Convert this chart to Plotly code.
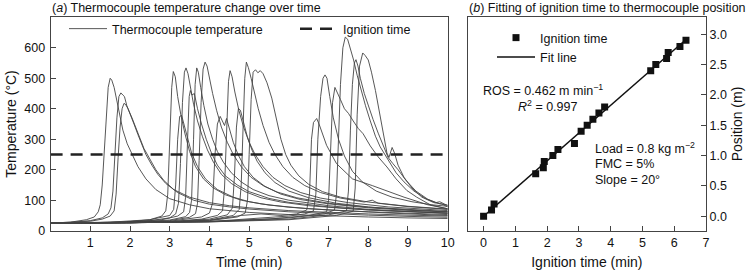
import numpy as np
import plotly.graph_objects as go

W, H = 753, 271
FONT = "Liberation Sans, Arial, sans-serif"

# ---------------- data: panel (a) thermocouple temperature curves (time min, temp degC)
tc01 = [(0,25),(0.5,28),(0.9,36),(1.1,45),(1.2,62),(1.25,85),(1.3,150),(1.35,260),(1.4,380),(1.45,470),(1.5,500),
        (1.54,494),(1.6,470),(1.66,430),(1.73,385),(1.82,330),(1.93,285),(2.06,250),(2.2,210),(2.4,170),(2.65,135),
        (3.0,105),(3.5,85),(4.0,72),(5.0,60),(6.0,53),(7.0,48),(8.0,45),(9.0,42),(10.0,40)]
tc02 = [(0,25),(0.5,27),(1.0,33),(1.3,42),(1.45,55),(1.52,75),(1.57,130),(1.62,250),(1.67,370),(1.72,440),(1.77,452),
        (1.82,445),(1.86,440),(1.92,410),(2.0,380),(2.1,350),(2.2,315),(2.3,280),(2.4,250),(2.55,215),(2.7,185),
        (2.9,155),(3.2,125),(3.6,100),(4.0,87),(4.5,78),(5.0,71),(6.0,62),(7.0,56),(8.0,51),(9.0,47),(10.0,44)]
tc03 = [(0,25),(0.5,27),(1.0,31),(1.3,38),(1.5,48),(1.6,65),(1.65,120),(1.7,240),(1.75,340),(1.8,400),(1.85,418),
        (1.9,412),(1.95,400),(2.05,370),(2.15,335),(2.25,300),(2.35,270),(2.5,235),(2.65,200),(2.85,165),(3.1,135),
        (3.5,110),(4.0,92),(4.5,82),(5.0,75),(6.0,66),(7.0,60),(8.0,55),(9.0,51),(10.0,48)]
tc04 = [(0,25),(1.0,26),(2.0,30),(2.5,36),(2.8,48),(2.9,65),(2.95,120),(3.0,300),(3.05,470),(3.09,522),(3.14,505),
        (3.2,440),(3.28,380),(3.38,320),(3.5,260),(3.65,210),(3.85,170),(4.1,140),(4.4,118),(4.8,100),(5.3,88),
        (6.0,77),(7.0,68),(8.0,62),(9.0,57),(10.0,53)]
tc05 = [(0,25),(1.5,28),(2.5,36),(3.0,50),(3.1,70),(3.15,150),(3.2,300),(3.25,375),(3.3,378),(3.36,350),(3.45,300),
        (3.55,255),(3.7,210),(3.9,170),(4.2,135),(4.6,110),(5.0,95),(5.5,84),(6.5,72),(7.5,64),(8.5,58),(10.0,50)]
tc06 = [(0,25),(1.5,27),(2.5,33),(3.0,42),(3.15,55),(3.22,90),(3.27,220),(3.32,420),(3.37,520),(3.41,534),(3.46,515),
        (3.52,470),(3.6,415),(3.7,360),(3.82,310),(3.95,265),(4.1,225),(4.3,185),(4.55,155),(4.9,128),(5.3,108),
        (5.8,94),(6.5,82),(7.5,72),(8.5,65),(10.0,58)]
tc07 = [(0,25),(2.0,28),(2.8,36),(3.2,48),(3.35,62),(3.4,110),(3.45,300),(3.49,440),(3.52,460),(3.56,445),(3.62,450),
        (3.7,400),(3.8,350),(3.92,300),(4.05,255),(4.2,215),(4.4,180),(4.7,150),(5.0,128),(5.5,106),(6.0,93),
        (7.0,78),(8.0,68),(9.0,62),(10.0,57)]
tc08 = [(0,25),(2.0,27),(3.0,35),(3.4,46),(3.5,60),(3.55,100),(3.6,300),(3.64,480),(3.68,534),(3.72,520),(3.78,470),
        (3.86,410),(3.96,350),(4.08,300),(4.2,260),(4.35,225),(4.55,190),(4.8,160),(5.1,135),(5.5,115),(6.0,100),
        (7.0,82),(8.0,70),(9.0,63),(10.0,57)]
tc09 = [(0,25),(2.0,27),(3.0,33),(3.5,44),(3.65,56),(3.7,90),(3.74,230),(3.79,420),(3.84,530),(3.89,553),(3.94,540),
        (4.0,500),(4.08,450),(4.18,395),(4.3,340),(4.45,290),(4.6,250),(4.8,210),(5.05,175),(5.35,148),(5.7,127),
        (6.2,108),(7.0,90),(8.0,77),(9.0,69),(10.0,63)]
tc10 = [(0,25),(2.0,27),(3.0,31),(3.8,45),(4.0,58),(4.08,90),(4.14,250),(4.2,350),(4.27,375),(4.33,360),(4.38,345),
        (4.43,368),(4.5,335),(4.6,290),(4.72,250),(4.88,210),(5.1,175),(5.4,145),(5.8,120),(6.3,102),(7.0,88),
        (8.0,75),(9.0,67),(10.0,62)]
tc11 = [(0,25),(2.0,26),(3.0,30),(3.8,38),(4.2,50),(4.33,65),(4.38,140),(4.43,330),(4.48,490),(4.52,525),(4.57,505),
        (4.64,455),(4.74,395),(4.86,340),(5.0,290),(5.15,250),(5.35,210),(5.6,175),(5.9,148),(6.3,125),(6.8,107),
        (7.5,92),(8.5,78),(10.0,66)]
tc12 = [(0,25),(2.0,26),(3.0,29),(4.0,38),(4.45,52),(4.58,75),(4.63,180),(4.68,340),(4.73,401),(4.78,395),(4.85,360),
        (4.95,310),(5.07,265),(5.2,228),(5.4,190),(5.65,158),(6.0,130),(6.5,108),(7.2,90),(8.0,78),(9.0,68),(10.0,61)]
tc13 = [(0,25),(2.0,26),(3.0,28),(4.0,35),(4.6,50),(4.75,70),(4.8,150),(4.85,350),(4.89,500),(4.93,553),(4.98,535),
        (5.05,500),(5.13,455),(5.23,400),(5.35,345),(5.5,290),(5.65,250),(5.85,210),(6.1,175),(6.4,148),(6.8,125),
        (7.3,107),(7.9,94),(8.1,100),(8.25,90),(9.0,79),(10.0,70)]
tc14 = [(0,25),(2.0,26),(3.0,28),(4.0,33),(4.7,45),(4.9,58),(4.96,100),(5.0,250),(5.05,430),(5.1,520),(5.16,528),
        (5.22,518),(5.28,525),(5.35,515),(5.45,485),(5.57,435),(5.68,370),(5.8,300),(5.92,250),(6.05,215),(6.25,180),
        (6.5,152),(6.85,128),(7.3,110),(8.0,94),(9.0,80),(10.0,71)]
tc15 = [(0,25),(2.0,26),(4.0,34),(4.8,50),(5.3,55),(5.8,50),(6.2,55),(6.45,68),(6.52,120),(6.57,300),(6.62,355),
        (6.7,368),(6.76,350),(6.84,320),(6.95,280),(7.2,220),(7.6,170),(8.1,148),(8.9,110),(9.5,85),(10.0,72)]
tc16 = [(0,25),(2.0,26),(4.0,30),(5.0,40),(6.0,48),(6.4,55),(6.62,65),(6.68,120),(6.73,300),(6.8,440),(6.86,500),
        (6.91,511),(6.96,500),(7.03,440),(7.12,370),(7.25,300),(7.4,245),(7.6,195),(7.85,160),(8.2,130),(8.6,110),
        (9.1,95),(9.6,85),(10.0,80)]
tc17 = [(0,25),(2.0,26),(4.0,30),(5.5,38),(6.5,50),(6.95,62),(7.0,100),(7.05,280),(7.1,420),(7.16,470),(7.22,455),
        (7.3,430),(7.4,400),(7.5,385),(7.62,360),(7.75,335),(7.87,318),(8.05,278),(8.25,242),(8.47,209),(8.7,170),
        (8.97,132),(9.22,110),(9.56,85),(10.0,72)]
tc18 = [(0,25),(2.0,26),(4.0,30),(6.0,42),(6.9,55),(7.15,68),(7.2,120),(7.25,300),(7.3,480),(7.36,600),(7.42,635),
        (7.48,628),(7.55,600),(7.63,560),(7.72,510),(7.82,460),(7.93,410),(8.05,360),(8.18,310),(8.3,275),(8.42,250),
        (8.55,220),(8.7,190),(8.9,160),(9.15,130),(9.45,105),(9.7,92),(9.8,95),(10.0,82)]
tc19 = [(0,25),(2.0,26),(4.0,29),(6.0,38),(7.0,52),(7.45,65),(7.5,130),(7.55,330),(7.6,480),(7.65,550),(7.69,561),
        (7.74,540),(7.8,500),(7.9,450),(8.0,410),(8.12,365),(8.25,320),(8.38,275),(8.5,240),(8.62,220),(8.75,200),
        (8.95,165),(9.2,130),(9.5,103),(9.8,88),(10.0,84)]
tc20 = [(0,25),(2.0,26),(4.0,29),(6.0,36),(7.2,50),(7.62,64),(7.67,140),(7.72,380),(7.78,540),(7.86,583),(7.92,575),
        (8.0,560),(8.08,520),(8.18,460),(8.28,390),(8.38,320),(8.47,255),(8.52,240),(8.6,273),(8.66,255),(8.75,215),
        (8.9,175),(9.1,140),(9.35,110),(9.65,92),(9.85,88),(10.0,78)]
thermocouples = [tc01, tc02, tc03, tc04, tc05, tc06, tc07, tc08, tc09, tc10,
                 tc11, tc12, tc13, tc14, tc15, tc16, tc17, tc18, tc19, tc20]

ignition_threshold = 250
time_span = [0, 10]

# ---------------- data: panel (b)
ignition_time = [0.0, 0.25, 0.33, 1.64, 1.88, 1.91, 2.18, 2.34, 2.86, 3.07,
                 3.26, 3.44, 3.63, 3.81, 5.26, 5.42, 5.76, 5.81, 6.18, 6.37]
position = [0.0, 0.1, 0.2, 0.7, 0.8, 0.9, 1.0, 1.1, 1.2, 1.4,
            1.5, 1.6, 1.7, 1.8, 2.4, 2.5, 2.6, 2.7, 2.8, 2.9]

temp_ticks = [0, 100, 200, 300, 400, 500, 600]
time_ticks = [1, 2, 3, 4, 5, 6, 7, 8, 9, 10]
ign_ticks = [0, 1, 2, 3, 4, 5, 6, 7]
pos_ticks = [0.0, 0.5, 1.0, 1.5, 2.0, 2.5, 3.0]


def fx(px):
    return px / W


def fy(py):
    return 1 - py / H


fig = go.Figure()

for i, pts in enumerate(thermocouples):
    t = [p[0] for p in pts]
    T = [p[1] for p in pts]
    fig.add_trace(go.Scatter(
        x=t, y=T, mode="lines", line=dict(color="#444444", width=0.9),
        name="Thermocouple temperature", legendgroup="tc", showlegend=(i == 0),
        xaxis="x", yaxis="y", legend="legend", hoverinfo="skip"))

fig.add_trace(go.Scatter(
    x=time_span, y=[ignition_threshold, ignition_threshold], mode="lines",
    line=dict(color="#222222", width=2.5, dash="12px,8px"),
    name="Ignition time", xaxis="x", yaxis="y", legend="legend"))

fig.add_trace(go.Scatter(
    x=ignition_time, y=position, mode="markers",
    marker=dict(symbol="square", size=7, color="#111111"),
    name="Ignition time", xaxis="x2", yaxis="y2", legend="legend2"))

slope, intercept = np.polyfit(ignition_time, position, 1)
fit_x = [min(ignition_time), max(ignition_time)]
fit_y = [slope * v + intercept for v in fit_x]
fig.add_trace(go.Scatter(
    x=fit_x, y=fit_y, mode="lines", line=dict(color="#111111", width=1.5),
    name="Fit line", xaxis="x2", yaxis="y2", legend="legend2"))

ydom = [fy(230.7), fy(17.3)]
TITLE_FONT = dict(family=FONT, size=14, color="#111111")
axis_common = dict(showline=True, linecolor="#444444", linewidth=1, mirror=True,
                   ticks="inside", ticklen=5, tickwidth=1, tickcolor="#444444",
                   showgrid=False, zeroline=False, automargin=False,
                   tickfont=dict(family=FONT, size=12.5, color="#111111"))

fig.update_layout(
    width=W, height=H, margin=dict(l=0, r=0, t=0, b=0),
    paper_bgcolor="white", plot_bgcolor="white",
    font=dict(family=FONT, size=12.5, color="#111111"),
    xaxis=dict(domain=[fx(50.6), fx(447.7)], range=[0, 10], tickvals=time_ticks,
               title=dict(text="Time (min)", font=TITLE_FONT, standoff=8),
               anchor="y", **axis_common),
    yaxis=dict(domain=ydom, range=[0, 700], tickvals=temp_ticks, ticklabelstandoff=2,
               title=dict(text="Temperature (°C)", font=TITLE_FONT, standoff=4),
               anchor="x", **axis_common),
    xaxis2=dict(domain=[fx(467.7), fx(706)], range=[-0.5, 7.0], tickvals=ign_ticks,
                title=dict(text="Ignition time (min)", font=TITLE_FONT, standoff=8),
                anchor="y2", **axis_common),
    yaxis2=dict(domain=ydom, range=[-0.24, 3.28], tickvals=pos_ticks, tickformat=".1f",
                title=dict(text="Position (m)", font=TITLE_FONT, standoff=6),
                side="right", anchor="x2", **axis_common),
    legend=dict(orientation="h", x=fx(64), y=fy(14), xanchor="left", yanchor="top",
                bgcolor="rgba(0,0,0,0)", entrywidth=178, itemwidth=38,
                font=dict(family=FONT, size=12.5, color="#111111")),
    legend2=dict(orientation="v", x=fx(492), y=fy(23), xanchor="left", yanchor="top",
                 bgcolor="rgba(0,0,0,0)", itemwidth=38, tracegroupgap=0,
                 font=dict(family=FONT, size=12.5, color="#111111")),
    showlegend=True,
)

ann = [
    dict(text="(<i>a</i>) Thermocouple temperature change over time", x=fx(50), y=fy(8), xanchor="left"),
    dict(text="(<i>b</i>) Fitting of ignition time to thermocouple position", x=fx(467), y=fy(8), xanchor="left"),
    dict(text="ROS = 0.462 m min<sup>−1</sup>", x=fx(543), y=fy(90), xanchor="center"),
    dict(text="<i>R</i><sup>2</sup> = 0.997", x=fx(547), y=fy(106), xanchor="center"),
    dict(text="Load = 0.8 kg m<sup>−2</sup>", x=fx(593), y=fy(148), xanchor="left"),
    dict(text="FMC = 5%", x=fx(593), y=fy(164), xanchor="left"),
    dict(text="Slope = 20°", x=fx(593), y=fy(179.5), xanchor="left"),
]
for a in ann:
    fig.add_annotation(text=a["text"], x=a["x"], y=a["y"], xref="paper", yref="paper",
                       xanchor=a["xanchor"], yanchor="middle", showarrow=False,
                       font=dict(family=FONT, size=12.5, color="#111111"))

fig.write_html("out.html", config={"displayModeBar": False},
               post_script="document.body.style.margin='0';document.body.style.padding='0';")
